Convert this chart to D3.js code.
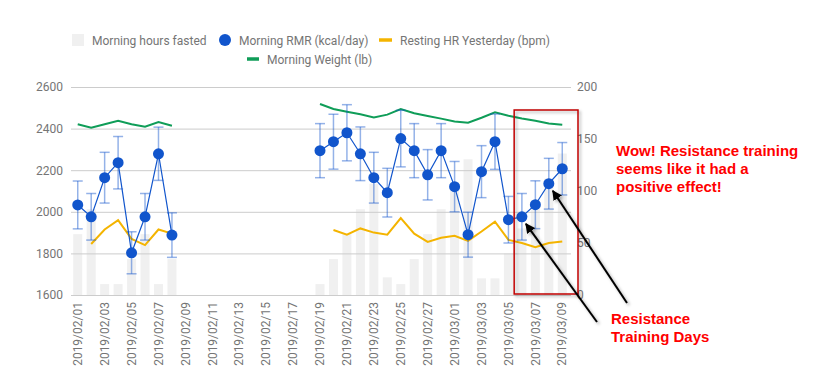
<!DOCTYPE html>
<html>
<head>
<meta charset="utf-8">
<script src="https://cdn.jsdelivr.net/npm/d3@7"></script>
<style>
  body { margin: 0; background: #fff; }
  text { font-family: Roboto, sans-serif; }
</style>
</head>
<body>
<svg id="chart" width="834" height="390"></svg>
<script>
// one entry per day, null where nothing was logged
const dates = [
  '2019/02/01','2019/02/02','2019/02/03','2019/02/04','2019/02/05','2019/02/06','2019/02/07','2019/02/08',
  '2019/02/09','2019/02/10','2019/02/11','2019/02/12','2019/02/13','2019/02/14','2019/02/15','2019/02/16',
  '2019/02/17','2019/02/18','2019/02/19','2019/02/20','2019/02/21','2019/02/22','2019/02/23','2019/02/24',
  '2019/02/25','2019/02/26','2019/02/27','2019/02/28','2019/03/01','2019/03/02','2019/03/03','2019/03/04',
  '2019/03/05','2019/03/06','2019/03/07','2019/03/08','2019/03/09'
];
const tickLabels = [
  '2019/02/01','2019/02/03','2019/02/05','2019/02/07','2019/02/09','2019/02/11','2019/02/13',
  '2019/02/15','2019/02/17','2019/02/19','2019/02/21','2019/02/23','2019/02/25','2019/02/27',
  '2019/03/01','2019/03/03','2019/03/05','2019/03/07','2019/03/09'
];
const hoursFasted = [58.5, 82.5, 10.5, 10.5, 34.5, 58.5, 10.5, 34.5,
  null, null, null, null, null, null, null, null, null, null,
  10.5, 34.5, 58.5, 82.5, 107, 17, 10.5, 34.5, 58.5, 82.5, 106.5,
  130.5, 16, 16, 40, 64, 88, 112, 136];
const rmr = [2033, 1976, 2164, 2236, 1803, 1976, 2279, 1888,
  null, null, null, null, null, null, null, null, null, null,
  2294, 2337, 2380, 2279, 2164, 2092, 2352, 2294, 2178, 2294, 2121,
  1890, 2193, 2337, 1962, 1976, 2034, 2135, 2207];
const rmrErr = [115, 112, 122, 126, 101, 112, 128, 107,
  null, null, null, null, null, null, null, null, null, null,
  130, 132, 135, 129, 122, 117, 136, 130, 121, 130, 121,
  108, 125, 133, 112, 112, 115, 122, 126];
const restingHR = [null, 49, 63, 72, 54, 48, 63, 59,
  null, null, null, null, null, null, null, null, null, null,
  null, 62.5, 58, 64, 60, 58, 74, 59, 51, 55, 57,
  52, 61, 70.5, 53, 50, 46, 50, 51.5];
const weight = [2421, 2404, 2421, 2438, 2421, 2409, 2432, 2414,
  null, null, null, null, null, null, null, null, null, null,
  2518, 2494, 2481, 2469, 2454, 2467, 2494, 2474, 2461, 2448, 2434,
  2428, 2452, 2478, 2462, 2449, 2438, 2425, 2419];

const leftTicks = [1600, 1800, 2000, 2200, 2400, 2600];
const rightTicks = [0, 50, 100, 150, 200];
const legendNames = ['Morning hours fasted', 'Morning RMR (kcal/day)', 'Resting HR Yesterday (bpm)', 'Morning Weight (lb)'];
const noteLines = ['Wow! Resistance training', 'seems like it had a', 'positive effect!'];
const trainingLines = ['Resistance', 'Training Days'];
const highlightDays = ['2019/03/05', '2019/03/09'];

const blue = '#1155cc', orange = '#f4b400', green = '#0f9d58', barGray = '#f0f0f0', textGray = '#757575';
const plotL = 71, plotR = 569, plotT = 87, plotB = 295;

const svg = d3.select('#chart');
const defs = svg.append('defs');
defs.append('filter').attr('id', 'shadow')
  .attr('x', '-20%').attr('y', '-20%').attr('width', '140%').attr('height', '140%')
  .append('feDropShadow')
    .attr('dx', 2).attr('dy', 2).attr('stdDeviation', 1.5)
    .attr('flood-color', '#000').attr('flood-opacity', 0.3);
defs.append('marker').attr('id', 'head')
  .attr('viewBox', '0 0 10 10').attr('refX', 9).attr('refY', 5)
  .attr('markerWidth', 5).attr('markerHeight', 5).attr('orient', 'auto')
  .append('path').attr('d', 'M0,0L10,5L0,10z').attr('fill', '#000');

const x = d3.scaleBand().domain(dates).range([plotL, plotR]);
const yL = d3.scaleLinear().domain([1600, 2600]).range([plotB, plotT]);
const yR = d3.scaleLinear().domain([0, 200]).range([plotB, plotT]);
const cx = d => x(d) + x.bandwidth() / 2;

const rows = dates.map((d, i) => ({
  date: d, fast: hoursFasted[i], rmr: rmr[i], err: rmrErr[i], hr: restingHR[i], weight: weight[i]
}));

// bars
svg.append('g').selectAll('rect')
  .data(rows.filter(r => r.fast != null))
  .enter().append('rect')
    .attr('x', r => cx(r.date) - 4.5)
    .attr('width', 9)
    .attr('y', r => yR(r.fast))
    .attr('height', r => plotB - yR(r.fast))
    .attr('fill', barGray);

// axes
const gl = svg.append('g')
  .attr('transform', 'translate(' + plotL + ',0)')
  .call(d3.axisLeft(yL).tickValues(leftTicks).tickFormat(d3.format('d'))
    .tickSize(-(plotR - plotL + 2)).tickPadding(8));
gl.select('.domain').remove();
gl.selectAll('line').attr('stroke', '#cccccc');
gl.selectAll('text').attr('fill', textGray).style('font-size', '12px');

const gr = svg.append('g')
  .attr('transform', 'translate(' + plotR + ',0)')
  .call(d3.axisRight(yR).tickValues(rightTicks).tickSize(0).tickPadding(8));
gr.select('.domain').remove();
gr.selectAll('text').attr('fill', textGray).style('font-size', '12px');

const gx = svg.append('g')
  .attr('transform', 'translate(0,' + plotB + ')')
  .call(d3.axisBottom(x).tickValues(tickLabels).tickSize(0));
gx.select('.domain').remove();
gx.selectAll('text')
  .attr('transform', 'rotate(-90)')
  .attr('x', -7).attr('y', 0).attr('dy', '0.35em')
  .style('text-anchor', 'end')
  .attr('fill', textGray).style('font-size', '12px');

// lines
const hrLine = d3.line().defined(r => r.hr != null).x(r => cx(r.date)).y(r => yR(r.hr));
const wLine = d3.line().defined(r => r.weight != null).x(r => cx(r.date)).y(r => yL(r.weight));
const rmrLine = d3.line().defined(r => r.rmr != null).x(r => cx(r.date)).y(r => yL(r.rmr));

svg.append('path').datum(rows).attr('d', hrLine)
  .attr('fill', 'none').attr('stroke', orange).attr('stroke-width', 2);
svg.append('path').datum(rows).attr('d', wLine)
  .attr('fill', 'none').attr('stroke', green).attr('stroke-width', 2);

// error bars
const withRmr = rows.filter(r => r.rmr != null);
const eb = svg.append('g').attr('stroke', blue).attr('stroke-opacity', 0.45).attr('stroke-width', 1.5);
eb.selectAll('.v').data(withRmr).enter().append('line')
  .attr('x1', r => cx(r.date)).attr('x2', r => cx(r.date))
  .attr('y1', r => yL(r.rmr - r.err)).attr('y2', r => yL(r.rmr + r.err));
eb.selectAll('.t').data(withRmr).enter().append('line')
  .attr('x1', r => cx(r.date) - 5).attr('x2', r => cx(r.date) + 5)
  .attr('y1', r => yL(r.rmr + r.err)).attr('y2', r => yL(r.rmr + r.err));
eb.selectAll('.b').data(withRmr).enter().append('line')
  .attr('x1', r => cx(r.date) - 5).attr('x2', r => cx(r.date) + 5)
  .attr('y1', r => yL(r.rmr - r.err)).attr('y2', r => yL(r.rmr - r.err));

svg.append('path').datum(rows).attr('d', rmrLine)
  .attr('fill', 'none').attr('stroke', blue).attr('stroke-width', 1.2);
svg.append('g').selectAll('circle')
  .data(withRmr).enter().append('circle')
    .attr('cx', r => cx(r.date)).attr('cy', r => yL(r.rmr)).attr('r', 5.5)
    .attr('fill', blue);

// legend
const lg = svg.append('g').style('font-size', '12px').attr('fill', textGray);
lg.append('rect').attr('x', 72).attr('y', 34).attr('width', 12).attr('height', 12).attr('fill', barGray);
lg.append('text').attr('x', 92).attr('y', 45).text(legendNames[0]);
lg.append('circle').attr('cx', 225).attr('cy', 40).attr('r', 6).attr('fill', blue);
lg.append('text').attr('x', 239).attr('y', 45).text(legendNames[1]);
lg.append('line').attr('x1', 379).attr('x2', 392).attr('y1', 40).attr('y2', 40)
  .attr('stroke', orange).attr('stroke-width', 3.5);
lg.append('text').attr('x', 400).attr('y', 45).text(legendNames[2]);
lg.append('line').attr('x1', 247).attr('x2', 259).attr('y1', 59).attr('y2', 59)
  .attr('stroke', green).attr('stroke-width', 3.5);
lg.append('text').attr('x', 267).attr('y', 64).text(legendNames[3]);

// annotations
const boxL = x(highlightDays[0]) + x.bandwidth() - 1;
svg.append('rect')
  .attr('x', boxL).attr('y', 110)
  .attr('width', plotR + 9 - boxL).attr('height', 184)
  .attr('fill', 'none').attr('stroke', '#c00000').attr('stroke-width', 1.5)
  .attr('filter', 'url(#shadow)');

const arrows = [
  { from: [627, 303], to: '2019/03/08' },
  { from: [597, 322], to: '2019/03/06' }
];
svg.append('g').selectAll('line').data(arrows).enter().append('line')
  .attr('x1', a => a.from[0]).attr('y1', a => a.from[1])
  .attr('x2', a => cx(a.to) + 4).attr('y2', a => yL(rmr[dates.indexOf(a.to)]) + 7)
  .attr('stroke', '#000').attr('stroke-width', 2)
  .attr('marker-end', 'url(#head)').attr('filter', 'url(#shadow)');

const note = svg.append('text')
  .attr('fill', '#ff0000')
  .style('font-family', '"Liberation Sans", Arial, sans-serif')
  .style('font-size', '15px').style('font-weight', 'bold');
note.selectAll('tspan').data(noteLines).enter().append('tspan')
  .attr('x', 616).attr('y', (d, i) => 156 + i * 18).text(d => d);

const note2 = svg.append('text')
  .attr('fill', '#ff0000')
  .style('font-family', '"Liberation Sans", Arial, sans-serif')
  .style('font-size', '15px').style('font-weight', 'bold');
note2.selectAll('tspan').data(trainingLines).enter().append('tspan')
  .attr('x', 611).attr('y', (d, i) => 324 + i * 18).text(d => d);
</script>
</body>
</html>
